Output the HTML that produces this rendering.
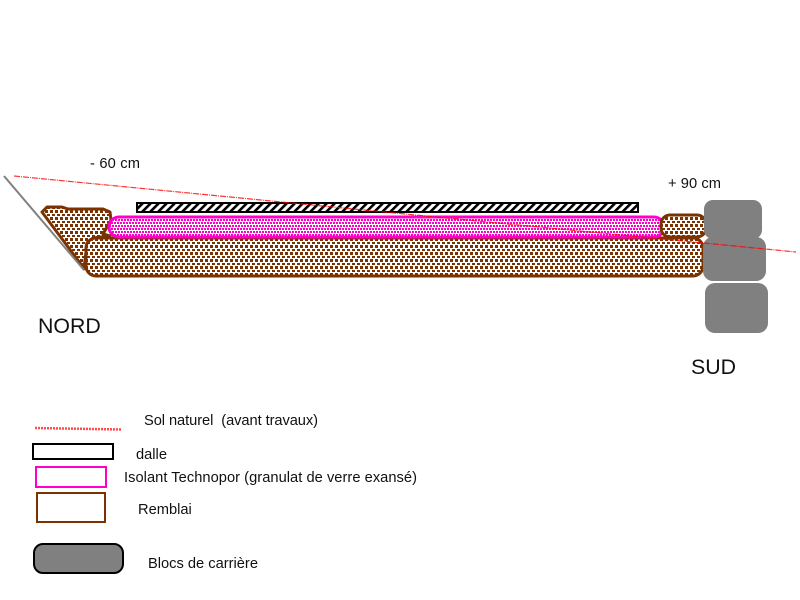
<!DOCTYPE html>
<html><head><meta charset="utf-8"><style>
html,body{margin:0;padding:0;background:#fff}
svg{display:block}
text{font-family:"Liberation Sans",sans-serif;fill:#111;white-space:pre}
</style></head><body>
<svg xmlns="http://www.w3.org/2000/svg" width="800" height="600" viewBox="0 0 800 600">
<defs>
<pattern id="rem" width="10" height="7" patternUnits="userSpaceOnUse">
<rect width="10" height="7" fill="#fff"/>
<g fill="#7a3300" shape-rendering="crispEdges">
<rect x="0" y="0" width="3" height="3"/>
<rect x="5" y="0" width="3" height="3"/>
<rect x="2" y="4" width="3" height="2"/>
<rect x="7" y="4" width="3" height="2"/>
</g>
</pattern>
<pattern id="iso" width="6" height="6" patternUnits="userSpaceOnUse">
<rect width="6" height="6" fill="#fff"/>
<g fill="#ff00cc" shape-rendering="crispEdges">
<rect x="0" y="0" width="2" height="2"/>
<rect x="3" y="0" width="2" height="2"/>
<rect x="1" y="3" width="2" height="2"/>
<rect x="4" y="3" width="2" height="2"/>
</g>
</pattern>
<pattern id="hat" width="5.66" height="5.66" patternUnits="userSpaceOnUse" patternTransform="rotate(45)">
<rect width="5.66" height="5.66" fill="#fff"/>
<rect width="2.6" height="5.66" fill="#000"/>
</pattern>
</defs>

<path d="M42 212 L47 207 L62 207 L68 209 L103 209 L110 212 L111 220 L103 234 L110 236 L93 238 L87 243 L84 269 L80 263 Z" fill="url(#rem)" stroke="#7a3300" stroke-width="3" stroke-linejoin="round"/>
<line x1="4" y1="176" x2="84" y2="270" stroke="#808080" stroke-width="2"/>

<rect x="86" y="238" width="617" height="38" rx="10" fill="url(#rem)" stroke="#7a3300" stroke-width="3"/>

<rect x="109" y="217" width="555" height="20" rx="10" fill="url(#iso)" stroke="#ff00cc" stroke-width="3"/>

<rect x="137" y="203" width="501" height="9" fill="url(#hat)" stroke="#000" stroke-width="2"/>

<rect x="661" y="215" width="45" height="22" rx="9" fill="url(#rem)" stroke="#7a3300" stroke-width="3"/>

<rect x="704" y="200" width="58" height="39" rx="9" fill="#808080"/>
<rect x="703" y="237" width="63" height="44" rx="10" fill="#808080"/>
<rect x="705" y="283" width="63" height="50" rx="10" fill="#808080"/>

<line x1="14" y1="176" x2="796" y2="252" stroke="#ff0000" stroke-width="1.2" stroke-dasharray="6 1 1 1" opacity=".8"/>

<text x="90" y="168" font-size="14.67" textLength="50">- 60 cm</text>
<text x="668" y="188" font-size="14.67" textLength="53">+ 90 cm</text>
<text x="38" y="333" font-size="21.33">NORD</text>
<text x="691" y="374" font-size="21.33">SUD</text>

<line x1="35" y1="428" x2="122" y2="429.5" stroke="#ff0000" stroke-width="2.5" stroke-dasharray="2 1" opacity=".7"/>
<rect x="33" y="444" width="80" height="15" fill="#fff" stroke="#000" stroke-width="2"/>
<rect x="36" y="467" width="70" height="20" fill="#fff" stroke="#ff00cc" stroke-width="2"/>
<rect x="37" y="493" width="68" height="29" fill="#fff" stroke="#7a3300" stroke-width="2"/>
<rect x="34" y="544" width="89" height="29" rx="9" fill="#808080" stroke="#000" stroke-width="2"/>

<text x="144" y="425" font-size="14.67" textLength="174">Sol naturel  (avant travaux)</text>
<text x="136" y="459" font-size="14.67">dalle</text>
<text x="124" y="482" font-size="14.67" textLength="293">Isolant Technopor (granulat de verre exansé)</text>
<text x="138" y="514" font-size="14.67">Remblai</text>
<text x="148" y="568" font-size="14.67">Blocs de carrière</text>
</svg>
</body></html>
